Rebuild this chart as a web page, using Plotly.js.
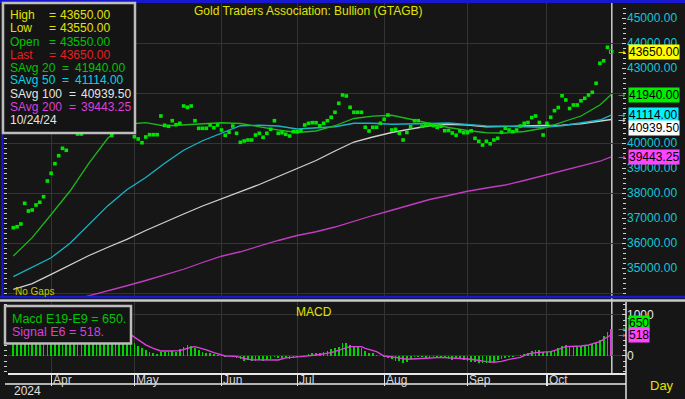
<!DOCTYPE html>
<html><head><meta charset="utf-8">
<script src="https://cdn.plot.ly/plotly-3.0.1.min.js"></script>
<style>html,body{margin:0;padding:0;background:#161616;overflow:hidden}#chart{width:685px;height:399px}</style>
</head><body><div id="chart"></div>
<script>
// ---- data ----
const closes = [36612,36652,36760,37588,37280,37320,37520,37628,37852,38480,
38788,39172,39492,39788,39708,40700,40900,40360,40360,40800,
41100,41400,41200,41600,41400,40900,40300,40800,41000,41300,
40900,41100,40252,40160,40012,40240,40332,40332,40332,41080,
40708,40668,40892,40732,40788,41480,41428,41480,40892,40588,
40588,40588,40720,40612,40720,40520,40308,40428,40680,40388,
40028,40080,40120,40120,40320,40388,40228,40388,40548,40892,
40388,40412,40348,40280,40452,40452,40492,40720,40788,40812,
40812,40692,40788,40892,41028,41228,41588,41920,41880,41428,
41228,41228,41228,40628,40480,40628,40628,40788,40948,41120,
40520,40548,40388,40120,40420,40652,40892,40892,40668,40720,
40740,40700,40628,40672,40492,40500,40400,40308,40480,40412,
40412,40488,40188,40068,39920,40068,39968,40120,40188,40428,
40588,40520,40452,40520,40680,40788,40820,41020,41080,40820,
40320,40788,41028,41292,41420,41888,41720,41380,41520,41520,
41688,41788,41920,42028,42388,43188,43288,43828,43650];

const maIdx = [0,5,10,15,20,25,30,35,40,45,50,55,60,65,70,75,80,85,90,95,100,105,110,115,120,125,130,135,140,145,150,155,158];
const sAvg20 = [35480,36215,37140,38080,39195,40200,40750,40812,40680,40720,40770,40810,40780,40640,40520,40420,40480,40690,40980,41075,41110,40950,40780,40620,40500,40410,40400,40460,40590,40840,41080,41520,41940];
const sAvg50 = [34652,35030,35410,35990,36750,37495,38130,38620,39190,39710,40090,40400,40690,40710,40680,40560,40600,40650,40790,40790,40750,40750,40780,40800,40730,40680,40670,40650,40630,40690,40810,40920,41114];
const sAvg100 = [34148,34375,34745,35125,35500,35830,36145,36500,36845,37160,37480,37770,38040,38340,38660,38970,39300,39680,40040,40240,40420,40560,40690,40750,40720,40650,40650,40680,40700,40715,40770,40870,40939.5];
const ma200Idx = [15,20,25,30,35,40,45,50,55,60,65,70,75,80,85,90,95,100,105,110,115,120,125,130,135,140,145,150,155,158];
const sAvg200 = [33690,33880,34100,34290,34500,34710,34950,35220,35470,35650,35890,36100,36300,36450,36640,36880,37100,37310,37540,37740,37900,38070,38200,38320,38500,38690,38870,39060,39270,39443.25];

const macd = [350,380,400,470,500,520,550,580,610,680,
740,800,850,880,880,880,870,840,800,780,
760,740,710,690,660,600,540,500,470,440,
400,370,325,251,187,146,106,65,41,106,
100,100,110,95,163,228,268,244,187,146,
106,81,65,49,24,0,-32,-10,-15,-57,
-81,-115,-100,-120,-110,-100,-110,-95,-75,-25,
-45,-45,-55,-70,-50,-35,-25,0,49,70,
85,85,100,120,163,195,228,309,325,268,
228,212,187,130,81,65,24,0,-32,-57,
-81,-115,-115,-163,-138,-81,-32,-16,-32,-40,
-40,-32,-16,-32,-57,-81,-98,-57,-81,-98,
-115,-138,-150,-165,-170,-160,-179,-138,-98,-80,
-60,-35,-15,5,30,55,75,120,150,146,
106,106,115,150,190,235,275,250,244,244,
244,256,268,293,330,400,490,585,650];

const sigIdx = [31,33,35,37,39,41,44,47,48,51,53,56,59,61,63,70,72,76,78,80,84,86,89,92,93,96,98,101,104,109,113,117,121,125,127,129,131,134,136,138,142,144,146,150,152,155,157,158];
const sigVal = [520,400,270,187,122,122,130,212,228,150,81,0,-10,-60,-95,-98,-45,-16,0,24,81,146,228,228,187,106,0,-33,-81,-57,-33,-57,-81,-138,-154,-130,-81,-33,49,81,106,163,228,244,268,350,450,518];

const monthIdx = [10,32,55,75,98,120,141];
const monthLbl = ['Apr','May','Jun','Jul','Aug','Sep','Oct'];
// 41000 and 42000 are hidden behind the value tags in the reference
const priceTicks = [35000,36000,37000,38000,39000,40000,43000,44000,45000];

const hlLabels = ['High','Low','Open','Last'];
const hlValues = [43650,43550,43550,43650];
const savgPeriods = [20,50,100,200];
const savgValues = [41940,41114,40939.5,39443.25];
const macdVal = 650, signalVal = 518;
const lastDate = '10/24/24';

// ---- styling ----
const FONT = 'Liberation Sans, Arial, sans-serif';
const W = 685, H = 399, ML = 8, MR = 59, MT = 3, MB = 26;
const PW = W - ML - MR, PH = H - MT - MB;
const px = x => (x - ML) / PW;
const py = y => (H - MB - y) / PH;
const YEL = '#e2e200', GRN = '#00c400', CYN = '#10c8d8', WHT = '#e4e4e4', MAG = '#d840d8', RED = '#e42020';
const GRID = '#343434';

const idx = closes.map((_, i) => i);
const n = closes.length;

const traces = [
  {x: ma200Idx, y: sAvg200, type:'scatter', mode:'lines', line:{color:'#c03cc0', width:1.3}, yaxis:'y', hoverinfo:'skip'},
  {x: maIdx, y: sAvg100, type:'scatter', mode:'lines', line:{color:'#d0d0d0', width:1.3}, yaxis:'y', hoverinfo:'skip'},
  {x: maIdx, y: sAvg50, type:'scatter', mode:'lines', line:{color:'#18b4c4', width:1.3}, yaxis:'y', hoverinfo:'skip'},
  {x: maIdx, y: sAvg20, type:'scatter', mode:'lines', line:{color:'#1cb81c', width:1.3}, yaxis:'y', hoverinfo:'skip'},
  {x: idx, y: closes, type:'scatter', mode:'markers', yaxis:'y', hoverinfo:'skip',
   marker:{symbol: idx.map(i => i === n-1 ? 'square-open' : 'square'), size: 3.6, color:'#00e400',
           line:{color:'#00e400', width: idx.map(i => i === n-1 ? 1 : 0)}}},
  {x: idx, y: macd, type:'bar', yaxis:'y2', width:0.45, hoverinfo:'skip',
   marker:{color: idx.map(i => i === n-1 ? '#e040e0' : '#00d400'), line:{width:0}}},
  {x: sigIdx, y: sigVal, type:'scatter', mode:'lines', yaxis:'y2', line:{color:'#e040e0', width:1.4}, hoverinfo:'skip'},
  // invisible points so that the overlay (left tick) axes are drawn
  {x:[0], y:[40000], yaxis:'y3', type:'scatter', mode:'markers', marker:{opacity:0}, hoverinfo:'skip'},
  {x:[0], y:[0], yaxis:'y4', type:'scatter', mode:'markers', marker:{opacity:0}, hoverinfo:'skip'}
];

const ann = [];
const T = (text, x, y, color, size, anchor, extra) => ann.push(Object.assign({
  text, xref:'paper', yref:'paper', x: px(x), y: py(y), xanchor: anchor || 'left', yanchor:'middle',
  showarrow:false, font:{family:FONT, size: size || 12, color}}, extra || {}));

T('Gold Traders Association: Bullion (GTAGB)', 308, 11, YEL, 12, 'center');
T('MACD', 314, 312, YEL, 12, 'center');
T('No Gaps', 13, 291, '#c8c800', 10);

// top-left info box
const rowY = r => 15.5 + r * 13;
const hlColors = [YEL, YEL, GRN, RED];
hlLabels.forEach((l, r) => {
  T(l, 8, rowY(r), hlColors[r]);
  T('=', 47, rowY(r), hlColors[r]);
  T(hlValues[r].toFixed(2), 58, rowY(r), hlColors[r]);
});
const sColors = [GRN, '#00d4e4', WHT, MAG];
savgPeriods.forEach((p, k) => {
  const r = k + 4, wide = p >= 100;
  T('SAvg', 8, rowY(r), sColors[k]);
  T(String(p), 40, rowY(r), sColors[k]);
  T('=', wide ? 67 : 60, rowY(r), sColors[k]);
  T(savgValues[k].toFixed(2), wide ? 79 : 73, rowY(r), sColors[k]);
});
T(lastDate, 8, rowY(8), WHT);

// MACD info box
T('Macd E19-E9 = ' + macdVal + '.', 10, 318.5, GRN, 12.5);
T('Signal E6 = ' + signalVal + '.', 10, 332, MAG, 12.5);

// month labels
monthIdx.forEach((m, k) => ann.push({text: monthLbl[k], xref:'x', yref:'paper', x: m, y: py(380),
  xanchor:'left', yanchor:'middle', xshift: 0, showarrow:false, font:{family:FONT, size:12, color:'#d8d8d8'}}));
T('2024', 12, 391, '#e0e0e0', 12);
T('Day', 648, 385, YEL, 13);

// right value tags
const tag = (val, txt, bg, yaxis, yshift, arrowColor) => {
  ann.push({text: txt, xref:'paper', yref: yaxis, x: px(628), y: val, xanchor:'left', yanchor:'middle',
    yshift, showarrow:false, bgcolor: bg, borderpad: 0, font:{family:FONT, size:12, color:'#000'}});
  ann.push({text:'→', xref:'paper', yref: yaxis, x: px(616), y: val, xanchor:'left', yanchor:'middle',
    showarrow:false, font:{family:'DejaVu Sans', size:9, color: arrowColor}});
};
tag(hlValues[3], hlValues[3].toFixed(2), '#ffff00', 'y', 0, '#f0f000');
tag(savgValues[0], savgValues[0].toFixed(2), '#00ee00', 'y', 0, '#00d000');
tag(savgValues[1], savgValues[1].toFixed(2), '#00f0ff', 'y', 0, '#00d0e0');
tag(savgValues[2], savgValues[2].toFixed(2), '#ffffff', 'y', -8, '#e0e0e0');
tag(savgValues[3], savgValues[3].toFixed(2), '#ff44ff', 'y', 0, '#e040e0');
tag(macdVal, String(macdVal), '#00ee00', 'y2', 6, '#00d000');
tag(signalVal, String(signalVal), '#ff44ff', 'y2', 0, '#e040e0');

const shapes = [
  {type:'line', xref:'x', yref:'paper', x0: n-1+0.15, x1: n-1+0.15, y0: 0, y1: 1, line:{color:'#cfcfcf', width:1.5}, layer:'between'},
  {type:'line', xref:'paper', yref:'paper', x0: px(0), x1: px(685), y0: py(1.5), y1: py(1.5), line:{color:'#1818d0', width:3}},
  {type:'line', xref:'paper', yref:'paper', x0: px(0), x1: px(685), y0: py(297), y1: py(297), line:{color:'#1818d0', width:2.5}},
  {type:'line', xref:'paper', yref:'paper', x0: px(2.5), x1: px(2.5), y0: py(3), y1: py(297), line:{color:'#1818d0', width:2}},
  {type:'line', xref:'paper', yref:'paper', x0: px(0), x1: px(685), y0: py(300.5), y1: py(300.5), line:{color:'#c8c8c8', width:2.5}},
  {type:'line', xref:'paper', yref:'paper', x0: px(5), x1: px(626), y0: py(384), y1: py(384), line:{color:'#e8e8e8', width:1.5}},
  {type:'line', xref:'paper', yref:'paper', x0: px(626), x1: px(626), y0: py(302), y1: py(399), line:{color:'#e0e0e0', width:1.5}},
  {type:'rect', xref:'paper', yref:'paper', x0: px(3), x1: px(135), y0: py(3), y1: py(133), fillcolor:'#141414', line:{color:'#bdbdbd', width:2.5}, layer:'above'},
  {type:'rect', xref:'paper', yref:'paper', x0: px(5), x1: px(131), y0: py(306), y1: py(343.5), fillcolor:'#141414', line:{color:'#bdbdbd', width:2.5}, layer:'above'}
];

const minorTick = (dt) => ({dtick: dt, ticklen: 3, tickcolor:'#d0d0d0', tickwidth:1, showgrid:false});

const layout = {
  width: W, height: H, margin:{l:ML, r:MR, t:MT, b:MB, pad:0},
  paper_bgcolor:'#161616', plot_bgcolor:'#161616', showlegend:false, bargap:0,
  font:{family:FONT, color:WHT},
  xaxis:{range:[-1.4, 161.9], anchor:'y2', tickvals: monthIdx, showticklabels:false, ticks:'outside', ticklen:11,
         tickcolor:'#e0e0e0', tickwidth:1.2, showgrid:true, gridcolor:GRID, gridwidth:1, zeroline:false,
         showline:true, linecolor:'#e8e8e8', linewidth:1.5, fixedrange:true},
  yaxis:{domain:[py(296), 1], range:[33880, 45600], side:'right', tickvals: priceTicks, tickformat:'.2f',
         tickfont:{family:FONT, size:12, color:CYN}, ticks:'inside', ticklen:4, tickcolor:'#d0d0d0',
         showgrid:false, zeroline:false, minor:Object.assign({ticks:'inside'}, minorTick(200)), fixedrange:true},
  yaxis3:{overlaying:'y', range:[33880, 45600], side:'left', showticklabels:false, dtick:2000, tick0:0,
          showgrid:true, gridcolor:GRID, gridwidth:1, ticks:'outside', ticklen:3, tickcolor:'#d0d0d0', zeroline:false,
          minor:Object.assign({ticks:'outside'}, minorTick(200)), fixedrange:true},
  yaxis2:{domain:[0, py(302)], range:[-415, 1317], side:'right', tickvals:[0, 1000], ticktext:['0','1000'],
          tickfont:{family:FONT, size:12, color:'#e8e8e8'}, ticks:'inside', ticklen:4, tickcolor:'#d0d0d0',
          showgrid:true, gridcolor:GRID, zeroline:false, minor:Object.assign({ticks:'inside'}, minorTick(125)), fixedrange:true},
  yaxis4:{overlaying:'y2', range:[-415, 1317], side:'left', showticklabels:false, showgrid:false, dtick:1000, tick0:0,
          ticks:'outside', ticklen:3, tickcolor:'#d0d0d0', zeroline:false,
          minor:Object.assign({ticks:'outside'}, minorTick(125)), fixedrange:true},
  annotations: ann, shapes
};

Plotly.newPlot('chart', traces, layout, {staticPlot:true, displayModeBar:false});
</script></body></html>
